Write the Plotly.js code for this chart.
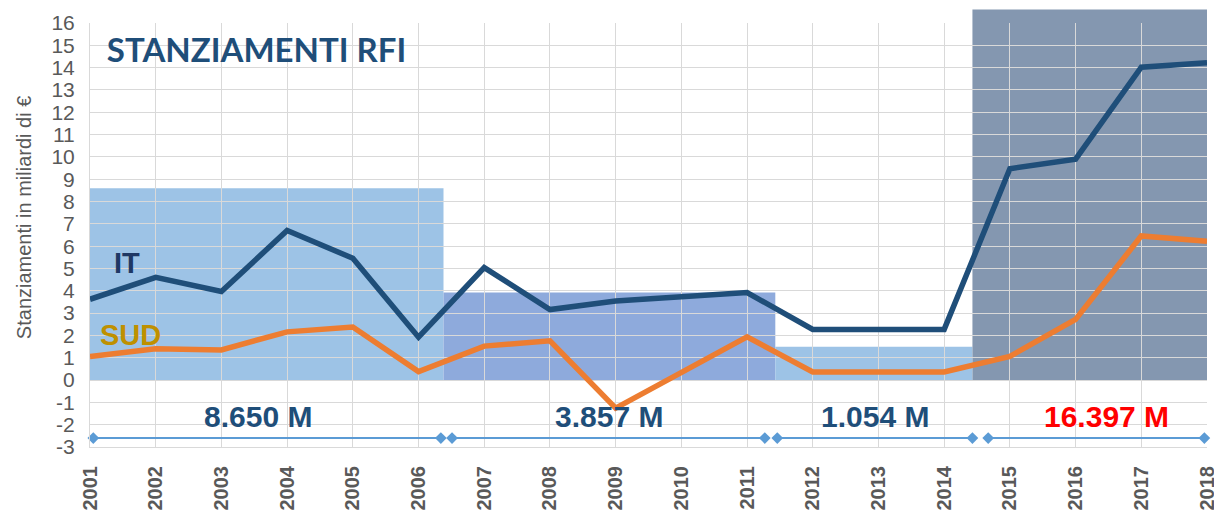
<!DOCTYPE html>
<html>
<head>
<meta charset="utf-8">
<script src="https://cdn.plot.ly/plotly-3.0.1.min.js"></script>
<style>html,body{margin:0;padding:0;background:#fff;}#chart{width:1214px;height:513px;}</style>
</head>
<body>
<div id="chart"></div>
<script>
// ---- data ----
const years = [2001,2002,2003,2004,2005,2006,2007,2008,2009,2010,2011,2012,2013,2014,2015,2016,2017,2018];
const itValues  = [3.62,4.6,3.97,6.7,5.46,1.92,5.04,3.16,3.54,3.72,3.92,2.27,2.27,2.27,9.47,9.9,14.02,14.22];
const sudValues = [1.06,1.4,1.35,2.16,2.38,0.38,1.52,1.76,-1.26,0.35,1.94,0.36,0.36,0.36,1.06,2.72,6.46,6.22];

const yTickVals = [-3,-2,-1,0,1,2,3,4,5,6,7,8,9,10,11,12,13,14,15,16];
const yTickText = ['-3','-2','-1','0','1','2','3','4','5','6','7','8','9','10','11','12','13','14','15','16'];
const xTickText = years.map(String);

const periodStart  = [2001, 2006.38, 2011.43, 2014.43];
const periodEnd    = [2006.38, 2011.43, 2014.43, 2018];
const periodHeight = [8.6, 3.92, 1.49, 16.6];
const periodColor  = ['#9DC3E6', '#8EAADC', '#9DC3E6', '#8497B0'];

const bracketStart = [2001.05, 2006.51, 2011.46, 2014.67];
const bracketEnd   = [2006.34, 2011.27, 2014.43, 2017.96];
const bracketLevel = -2.6;
const periodLabels = ['8.650 M', '3.857 M', '1.054 M', '16.397 M'];
const periodLabelX = [2003.55, 2008.9, 2012.95, 2016.47];
const periodLabelColor = ['#1F4E79', '#1F4E79', '#1F4E79', '#FF0000'];
const labelLevel = -1.62;

const yMin = -3, yMax = 16;

// ---- shapes (period blocks) ----
const toPaperY = v => (v - yMin) / (yMax - yMin);
const shapes = periodStart.map((s, i) => ({
  type: 'rect', layer: 'below', xref: 'x', yref: 'paper',
  x0: s, x1: periodEnd[i], y0: toPaperY(0), y1: toPaperY(periodHeight[i]),
  fillcolor: periodColor[i], line: {width: 0}
}));

// ---- brackets ----
const bx = [], by = [];
bracketStart.forEach((s, i) => { bx.push(s, bracketEnd[i], null); by.push(bracketLevel, bracketLevel, null); });

const FONT = 'Arial, Liberation Sans, sans-serif';
const traces = [
  {x: bx, y: by, type: 'scatter', mode: 'lines+markers', cliponaxis: false,
   line: {color: '#5B9BD5', width: 2}, marker: {symbol: 'diamond', size: 9, color: '#5B9BD5'},
   hoverinfo: 'skip', showlegend: false},
  {x: years, y: sudValues, type: 'scatter', mode: 'lines', name: 'SUD',
   line: {color: '#ED7D31', width: 5.5}, showlegend: false},
  {x: years, y: itValues, type: 'scatter', mode: 'lines', name: 'IT',
   line: {color: '#1F4E79', width: 5.5}, showlegend: false}
];

const annotations = periodLabels.map((t, i) => ({
  x: periodLabelX[i], y: labelLevel, xref: 'x', yref: 'y',
  text: t, showarrow: false, xanchor: 'center', yanchor: 'middle',
  font: {family: FONT, size: 30, weight: 'bold', color: periodLabelColor[i]}
}));
annotations.push({x: 2001.57, y: 5.25, xref: 'x', yref: 'y', text: 'IT', showarrow: false,
  font: {family: FONT, size: 29, weight: 'bold', color: '#1F3864'}});
annotations.push({x: 2001.61, y: 2.0, xref: 'x', yref: 'y', text: 'SUD', showarrow: false,
  font: {family: FONT, size: 29, weight: 'bold', color: '#BF9000'}});
// y-axis title (placed as in the reference, slightly above the plot centre)
annotations.push({x: -0.059, y: 0.54, xref: 'paper', yref: 'paper', xanchor: 'center', yanchor: 'middle',
  text: 'Stanziamenti in miliardi di €', textangle: -90, showarrow: false,
  font: {family: FONT, size: 20, color: '#595959'}});

const layout = {
  width: 1214, height: 513,
  margin: {l: 90, r: 7, t: 23, b: 66},
  paper_bgcolor: '#FFFFFF', plot_bgcolor: 'rgba(0,0,0,0)',
  showlegend: false,
  title: {text: 'STANZIAMENTI RFI', x: 0.088, xref: 'container', xanchor: 'left',
          y: 0.902, yref: 'container', yanchor: 'middle',
          font: {family: 'Lato, Open Sans, sans-serif', size: 33, weight: 'bold', color: '#1F4E79'}},
  xaxis: {
    type: 'linear', range: [2001, 2018], tickmode: 'array', tickvals: years, ticktext: xTickText,
    tickangle: -90, ticks: '', showgrid: true, gridcolor: '#D9D9D9', gridwidth: 1,
    showline: true, linecolor: '#D9D9D9', zeroline: false, ticklabeloverflow: 'allow',
    tickfont: {family: FONT, size: 20, weight: 'bold', color: '#595959'},
    ticklabelstandoff: 10, automargin: false
  },
  yaxis: {
    range: [yMin, yMax], tickmode: 'array', tickvals: yTickVals, ticktext: yTickText, ticks: '',
    showgrid: true, gridcolor: '#D9D9D9', gridwidth: 1, zeroline: false,
    showline: true, linecolor: '#D9D9D9',
    tickfont: {family: FONT, size: 21, color: '#595959'},
    ticklabelstandoff: 10,
    automargin: false
  },
  shapes: shapes,
  annotations: annotations
};

Plotly.newPlot('chart', traces, layout, {displayModeBar: false, staticPlot: true});
</script>
</body>
</html>
